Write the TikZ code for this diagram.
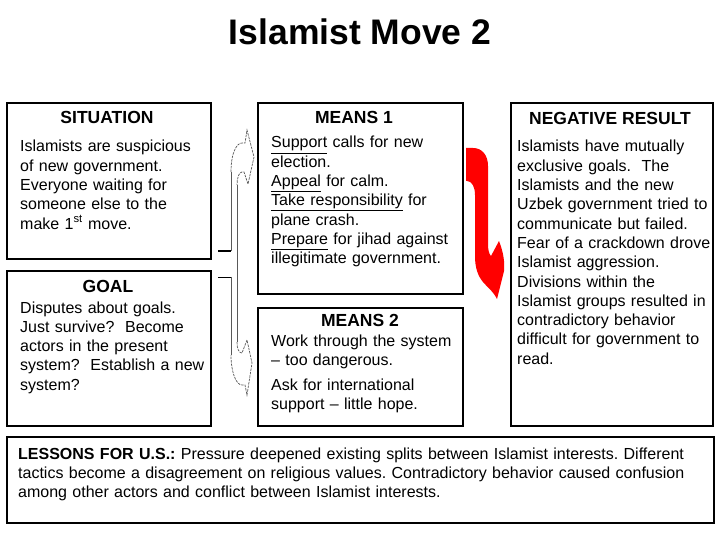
\documentclass[tikz,border=0pt]{standalone}
\usepackage{fontspec}
\setmainfont{Liberation Sans}
\usepackage{tikz}
\tikzset{
  bx/.style={draw,line width=2pt,anchor=north west,inner sep=0pt},
  hd/.style={anchor=base,inner sep=0pt,font=\fontsize{17.5}{21}\selectfont\bfseries},
  tx/.style={anchor=base west,inner sep=0pt,align=left,text width=#1,font=\fontsize{16}{19.3}\selectfont},
  tx/.default=200pt,
  tube/.style={draw=black!65,line width=0.7pt},
  cut/.style={tube,dash pattern=on 2.5pt off 1pt},
  conn/.style={line width=1.3pt,shorten <=6pt},
}
\frenchspacing
\begin{document}
\begin{tikzpicture}[x=1pt,y=-1pt]
\useasboundingbox (0,0) rectangle (720,540);
\node[anchor=base,inner sep=0pt,font=\fontsize{35.5}{40}\selectfont\bfseries] (title) at (360,45) {Islamist Move 2};
% boxes
\node[bx,minimum width=204pt,minimum height=156pt] (sit) at (6,102) {};
\node[bx,minimum width=204pt,minimum height=155pt] (goal) at (6,270) {};
\node[bx,minimum width=205pt,minimum height=191pt] (m1) at (257,102) {};
\node[bx,minimum width=205pt,minimum height=118pt] (m2) at (257,307) {};
\node[bx,minimum width=202pt,minimum height=323pt] (neg) at (510,102) {};
\node[bx,minimum width=707pt,minimum height=86pt] (les) at (6,436) {};
% headings
\node[hd] (sith) at (107,124) {SITUATION}; \node[hd] (goalh) at (108,292) {GOAL};
\node[hd] (m1h) at (354,124) {MEANS 1}; \node[hd] (m2h) at (360,326) {MEANS 2};
\node[hd] (negh) at (610,124.5) {NEGATIVE RESULT};
% texts
\node[tx] (sitt) at (20,152) {Islamists are suspicious\\of new government.\\Everyone waiting for\\someone else to the\\make 1\textsuperscript{st} move.};
\node[tx] (goalt) at (20,313) {Disputes about goals.\\Just survive?~ Become\\actors in the present\\system?~ Establish a new\\system?};
\node[tx] (m1t) at (271,148) {\underline{Support} calls for new\\election.\\\underline{Appeal} for calm.\\\underline{Take responsibility} for\\plane crash.\\\underline{Prepare} for jihad against\\illegitimate government.};
\node[tx] (m2t) at (271,346.5) {Work through the system\\\textendash{} too dangerous.\\[5pt]Ask for international\\support \textendash{} little hope.};
\node[tx] (negt) at (517,152) {Islamists have mutually\\exclusive goals.~ The\\Islamists and the new\\Uzbek government tried to\\communicate but failed.\\Fear of a crackdown drove\\Islamist aggression.\\Divisions within the\\Islamist groups resulted in\\contradictory behavior\\difficult for government to\\read.};
\node[tx=690pt] (lest) at (18,459) {\textbf{LESSONS FOR U.S.:} Pressure deepened existing splits between Islamist interests. Different\\tactics become a disagreement on religious values. Contradictory behavior caused confusion\\among other actors and conflict between Islamist interests.};
% hollow arrows to the means
\coordinate (a1) at (231,251); \coordinate (a2) at (231,277);
\draw[conn] (sit.east |- a1) -- (a1); \draw[conn,line width=0.9pt] (goal.east |- a2) -- (a2);
\draw[tube] (a1) -- (231,172); \draw[tube] (237,185) -- (237,342); \draw[tube] (231,355) -- (a2);
\draw[cut] (231,172) .. controls (231,152) and (237,143) .. (242,143) -- (245,143) -- (247,130)
  -- (254,157) -- (248,184) -- (244,172) -- (242,172) .. controls (239,172) and (237,178) .. (237,185);
\draw[cut] (237,342) .. controls (237,349) and (239,353) .. (242,353) -- (247,340) -- (252,363)
  -- (247,395) -- (245,385) -- (242,385) .. controls (236,385) and (231,372) .. (231,355);
% red arrow to the result
\fill[red] (466,148) -- (473,148) .. controls (482,148) and (488,155) .. (488,166) -- (488,244)
  .. controls (488,250) and (489,254) .. (491,256) -- (499,241) .. controls (503,251) and (505,262) .. (504,271)
  -- (497,299) .. controls (493,291) and (487,287) .. (483,282) .. controls (478,276) and (475,268) .. (475,256)
  -- (475,195) .. controls (475,187) and (472,181) .. (467,181) -- (466,181) -- cycle;
\end{tikzpicture}
\end{document}
